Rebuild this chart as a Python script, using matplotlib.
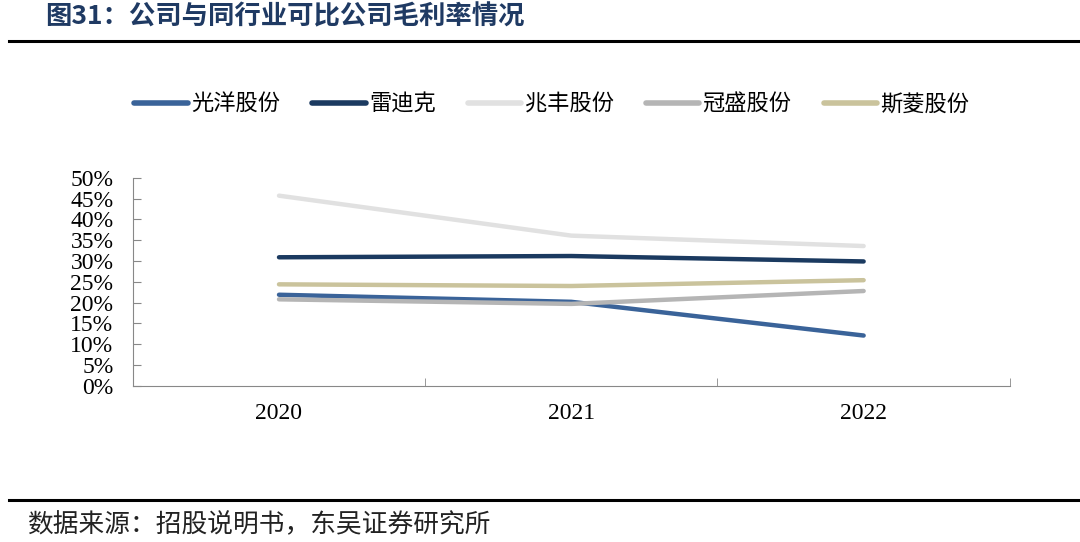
import numpy as np
import matplotlib.pyplot as plt
from matplotlib.lines import Line2D

plt.rcParams['font.family'] = ['Noto Sans CJK SC', 'DejaVu Sans']

years = ["2020", "2021", "2022"]
guangyang = [21.9, 20.2, 12.1]
leidike = [30.9, 31.2, 29.9]
zhaofeng = [45.7, 36.1, 33.6]
guansheng = [20.8, 19.7, 22.8]
siling = [24.4, 24.0, 25.4]

names = ["光洋股份", "雷迪克", "兆丰股份", "冠盛股份", "斯菱股份"]
series = [guangyang, leidike, zhaofeng, guansheng, siling]
colors = ["#3A6399", "#1B3A60", "#E1E1E1", "#B5B5B5", "#CAC39C"]

fig = plt.figure(figsize=(10.8, 5.42), dpi=100)
ax = fig.add_axes([0.123, 0.288, 0.812, 0.384])

x = np.arange(len(years))
for vals, c, n in zip(series, colors, names):
    ax.plot(x, vals, color=c, lw=3.2, solid_capstyle='round', label=n)

ax.set_xlim(-0.5, 2.5)
ax.set_ylim(0, 50)
ax.set_yticks(np.arange(0, 51, 5))
ax.set_yticklabels([f"{v}%" for v in range(0, 51, 5)],
                   fontfamily='Liberation Serif', fontsize=17)
ax.set_xticks(x)
ax.set_xticklabels(years, fontfamily='Liberation Serif', fontsize=17)
ax.set_xticks([-0.5, 0.5, 1.5, 2.5], minor=True)
ax.tick_params(axis='x', which='major', length=0, pad=12)
ax.tick_params(axis='x', which='minor', length=6, direction='in', color='#888888')
ax.tick_params(axis='y', length=6, direction='in', color='#888888', pad=14)
for s in ['top', 'right']:
    ax.spines[s].set_visible(False)
ax.spines['left'].set_color('#888888')
ax.spines['bottom'].set_color('#888888')

handles = [Line2D([0], [0], color=c, lw=4, solid_capstyle='round') for c in colors]
fig.legend(handles, names, loc='center', bbox_to_anchor=(0.511, 0.808), ncol=5,
           frameon=False, fontsize=16, handlelength=2.4, handletextpad=0.15,
           columnspacing=1.45)

fig.text(0.042, 0.968, "图31：公司与同行业可比公司毛利率情况", fontsize=19,
         fontweight='bold', color='#1F3A63', va='center')
fig.add_artist(Line2D([0.008, 1.0], [0.925, 0.925], color='black', lw=2.2))
fig.add_artist(Line2D([0.008, 1.0], [0.078, 0.078], color='black', lw=2.2))
fig.text(0.025, 0.031, "数据来源：招股说明书，东吴证券研究所", fontsize=18.5,
         color='#222222', va='center')

fig.savefig("out.png", dpi=100)
